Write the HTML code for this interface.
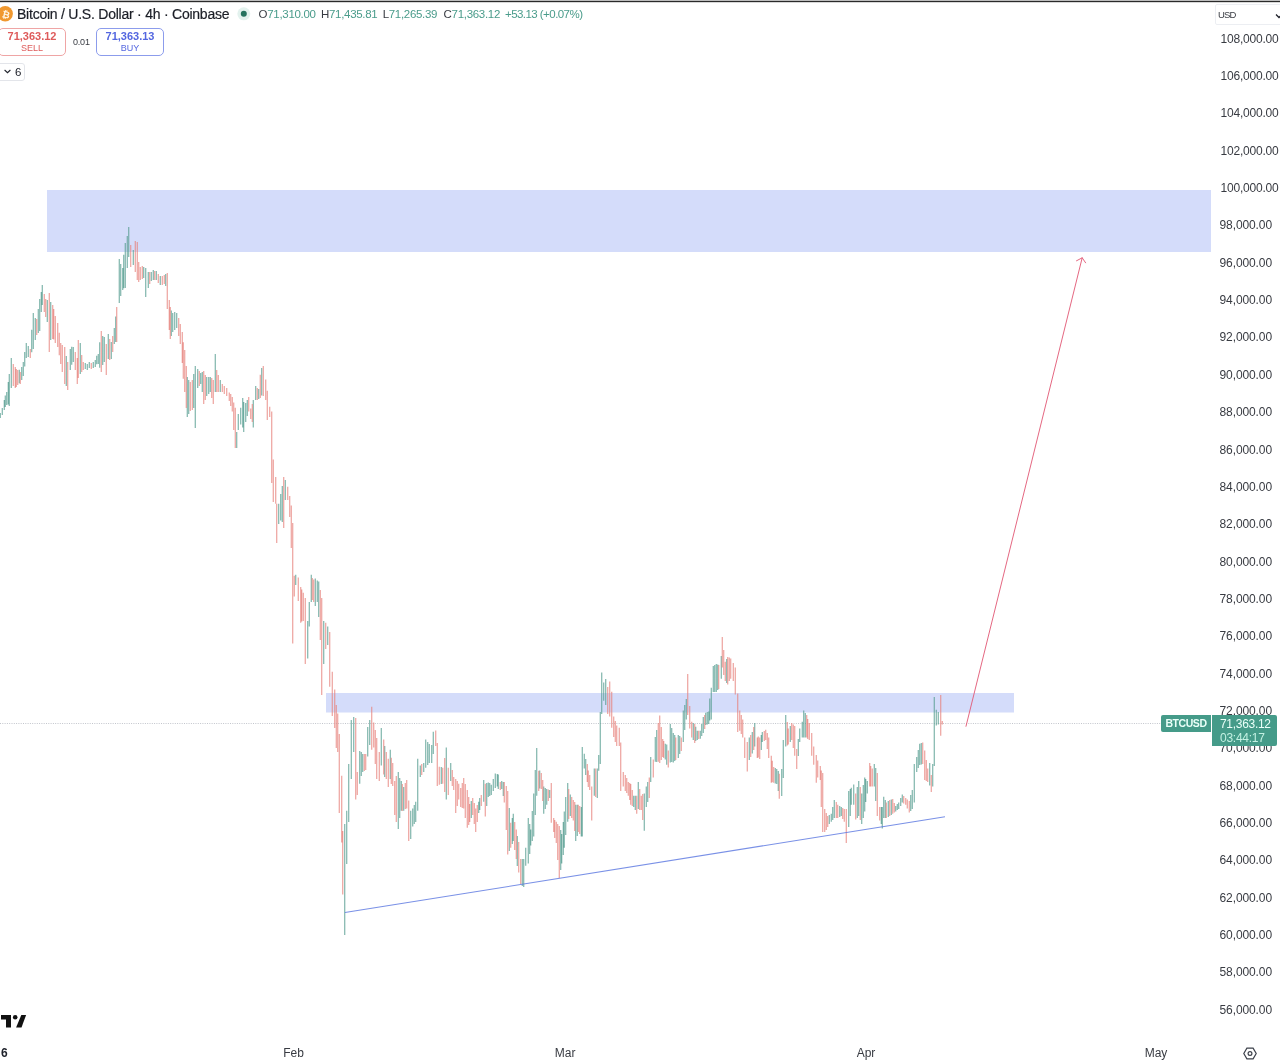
<!DOCTYPE html>
<html lang="en">
<head>
<meta charset="utf-8">
<title>BTCUSD 4h</title>
<style>
html,body{margin:0;padding:0;background:#fff;}
body{width:1280px;height:1062px;overflow:hidden;position:relative;font-family:"Liberation Sans",sans-serif;color:#2a2e39;}
#wrap{position:absolute;left:0;top:0;width:1280px;height:1062px;overflow:hidden;will-change:transform;}
.abs{position:absolute;white-space:nowrap;}
svg{position:absolute;left:0;top:0;}
.pl{position:absolute;left:1219.5px;width:54px;height:14px;line-height:14px;font-size:12px;letter-spacing:-0.2px;color:#383b42;white-space:nowrap;}
.tl{position:absolute;top:1046px;height:14px;line-height:14px;font-size:12px;color:#383b42;white-space:nowrap;transform:translateX(-50%);}
#topbar{position:absolute;left:0;top:0;width:1280px;height:3px;background:linear-gradient(#bdbdbd 0,#bdbdbd 1px,#2a2a2a 1px,#2a2a2a 2px,#d8d8d8 2px,#d8d8d8 3px);}
#title{left:17px;top:5px;height:18px;line-height:18px;font-size:14px;color:#1b1e26;letter-spacing:-0.235px;-webkit-text-stroke:0.2px #1b1e26;}
#ohlc{left:0;top:7px;height:14px;line-height:14px;font-size:11.5px;color:#4a9c8b;letter-spacing:-0.31px;}
#ohlc b{font-weight:normal;color:#383b42;}
#ohlc span{position:absolute;top:0;}
.btn{position:absolute;top:28px;height:28px;border:1px solid;border-radius:5px;box-sizing:border-box;text-align:center;background:#fff;}
.btn .p{display:block;font-size:11px;line-height:12px;margin-top:1px;font-weight:bold;letter-spacing:0;}
.btn .l{display:block;font-size:9px;line-height:11px;margin-top:0.5px;}
#sell{left:-2px;width:68px;border-color:#efa5a5;color:#de5b5b;}
#buy{left:96px;width:68px;border-color:#8c9cec;color:#5467e0;}
#spread{left:73px;top:35.7px;font-size:9px;line-height:12px;letter-spacing:-0.2px;color:#383b42;}
#ind{position:absolute;left:-4px;top:63px;width:29px;height:18px;border:1px solid #e3e5ea;border-radius:3px;box-sizing:border-box;}
#ind span{position:absolute;left:18px;top:1px;font-size:11.5px;line-height:14px;color:#20232c;}
#usd{position:absolute;left:1215px;top:4px;width:70px;height:21px;border:1px solid #eceef2;box-sizing:border-box;border-radius:2px;}
#usd span{position:absolute;left:2px;top:4px;font-size:9.5px;line-height:12px;letter-spacing:-0.85px;color:#383b42;}
#sym{position:absolute;left:1161px;top:715px;width:50px;height:17px;background:#459b89;border-radius:2px 0 0 2px;color:#eafff8;font-size:10.5px;line-height:17px;text-align:center;font-weight:bold;letter-spacing:-0.45px;}
#last{position:absolute;left:1212px;top:715px;width:65px;height:31px;background:#459b89;border-radius:0 2px 2px 0;color:#eafff8;}
#last .a{position:absolute;left:8px;top:2px;font-size:12px;line-height:14px;letter-spacing:-0.3px;}
#last .b{position:absolute;left:8px;top:16px;font-size:12px;line-height:14px;letter-spacing:-0.25px;color:#c3f0e2;}
#six{left:1px;top:1046px;font-size:12px;line-height:14px;font-weight:bold;color:#20232c;}
</style>
</head>
<body>
<div id="wrap">
<svg width="1280" height="1062" viewBox="0 0 1280 1062">
  <!-- zones -->
  <rect x="47" y="190" width="1164" height="62" fill="#d4dcfa"/>
  <rect x="326" y="693" width="688" height="19.5" fill="#d4dcfa"/>
  <!-- last price dotted line -->
  <line x1="0" y1="723.5" x2="1161" y2="723.5" stroke="#c2c5cc" stroke-width="1" stroke-dasharray="1 1.3"/>
  <!-- candles -->
  <g transform="translate(0.25,0)" fill="none" stroke-width="1.05" stroke-opacity="0.85">
    <path stroke="#559c8f" d="M0 413.0v5.0M2 408.0v7.0M4 400.0v10.0M5 395.5v11.5M6.5 392.0v13.0M8 382.0v22.5M9 374.0v32.0M11 358.0v30.0M19 369.7v13.5M21.5 367.1v13.0M23 362.0v14.0M24.5 352.1v14.5M26 343.0v15.0M28 346.0v11.0M31.5 329.7v22.5M33 313.0v36.0M35 318.0v22.0M38 309.0v24.0M39.5 299.0v32.0M41 292.0v20.0M42 285.0v20.0M47 300.0v22.0M50.5 302.0v38.0M66 356.0v30.0M70 349.0v21.0M71.5 346.7v18.0M73 347.0v15.0M80 343.0v31.0M85 363.0v6.0M87 364.0v6.0M89 362.0v6.0M93 362.0v6.0M95 360.0v7.0M96.5 355.8v8.5M98 354.0v10.0M99.5 342.3v25.5M102.5 336.0v29.0M104 337.0v25.0M108 334.0v25.0M111 342.0v17.0M114 328.0v16.0M115.5 316.4v25.5M119 259.0v44.0M120.5 264.0v32.0M122.5 268.0v22.0M123.5 254.7v33.5M125 243.0v45.0M127 236.0v32.0M128.5 227.0v30.0M133 250.0v15.0M143.5 267.0v11.0M145.5 268.0v29.0M148 272.0v16.0M151 272.0v9.0M153 270.0v10.0M156 271.0v9.0M160 276.0v9.0M165.5 274.0v12.0M171 310.4v25.5M172.5 313.0v19.0M174.5 312.0v18.0M176.5 313.0v15.0M187 377.0v40.0M188.5 380.0v34.0M193.5 374.0v34.0M195 366.0v62.0M197.5 369.0v19.0M200.5 373.0v11.0M202 372.0v20.0M206.5 377.0v19.0M208.5 377.0v17.0M210 377.0v15.0M215 354.0v38.0M220 380.0v12.0M236.5 432.0v16.0M238 414.0v16.0M240.5 407.7v16.9M242.5 398.0v29.5M243.5 402.0v30.0M245.5 403.0v19.0M247 400.0v16.0M253 400.0v27.5M255.5 386.0v14.0M258.5 389.0v10.0M261.5 368.0v27.5M278.5 503.7v20.3M280.5 494.0v26.6M282 486.0v36.0M285 480.0v20.0M295.5 574.8v10.2M307.5 621.0v37.6M309 602.0v24.6M311 574.8v27.2M315 578.6v27.4M317 580.5v21.5M318.5 581.4v35.6M323.5 621.0v43.0M327.5 626.6v18.4M344.5 824.0v111.0M346.5 810.8v53.2M348.5 764.0v58.0M351 720.0v59.0M353.5 717.0v35.0M359.5 751.0v32.7M361 752.0v24.0M362.5 754.0v18.0M367.5 727.0v29.5M369.5 720.0v25.0M381 728.0v37.6M384.5 746.0v31.0M390 749.7v29.3M398 772.0v57.0M399.5 778.0v40.0M401 781.0v29.8M403.5 787.0v23.8M410.5 810.8v28.2M412.5 808.5v18.1M414 805.0v19.0M415.5 801.8v20.2M417.5 758.8v52.0M420 765.6v11.4M423.5 763.0v9.0M425.5 739.6v28.2M427.5 742.0v23.0M429 744.0v19.0M431.5 745.0v18.0M433 731.7v22.3M441 767.0v17.0M446 747.5v52.0M450.5 763.0v18.0M471 801.0v17.0M478.5 801.8v11.2M479.5 798.0v12.0M483.5 780.0v21.8M486.5 783.0v23.0M488 782.5v14.5M489.5 783.0v13.0M491 784.8v10.2M493 779.0v12.0M495 773.5v14.5M497 774.0v12.6M498 774.6v14.4M501.5 781.0v8.0M503 782.0v14.0M509 808.0v43.0M512 818.0v26.0M513 813.8v27.2M517 836.0v30.0M522 859.0v27.0M523.5 859.0v28.0M525.5 847.7v18.1M528 818.0v45.5M529.5 824.0v30.0M530.5 829.6v15.8M532 811.0v30.0M533.5 793.4v43.0M535 770.0v45.0M536.5 748.0v47.7M539.5 770.5v18.1M543.5 786.6v27.2M545 788.0v21.0M546.5 789.0v15.7M549.5 790.0v8.0M560.5 830.0v40.0M561.5 834.0v29.5M563 822.0v33.0M564 811.5v36.2M565.5 797.0v38.0M567.5 783.0v38.7M570 794.5v21.5M575.5 804.7v36.3M577 804.7v31.3M581 807.0v29.4M582 747.0v89.4M584 753.8v14.7M585.5 759.0v16.0M594 768.5v27.2M597 768.5v29.5M598.5 755.0v15.8M600 712.0v52.0M601.5 672.4v41.6M603.5 682.6v18.1M605.5 679.0v26.0M633.5 795.7v11.3M635 795.7v14.3M638 782.0v27.0M644 793.4v37.3M646 786.6v20.4M647.5 782.0v20.0M650.5 757.0v25.0M655 737.0v24.8M656.5 730.0v32.0M665 743.7v15.8M666.5 744.4v20.3M670 724.0v38.5M671.5 728.0v34.0M673 733.0v29.5M674.5 735.0v26.0M678 735.0v23.0M679.5 736.0v18.0M683 710.5v31.5M684.5 705.0v25.0M686 699.0v20.5M693 723.0v17.0M695.5 726.8v14.1M697 730.8v9.2M700 730.8v7.9M701.5 724.0v12.0M703 717.0v16.0M705.5 712.7v12.3M707 712.0v12.5M708.5 711.6v12.4M709.5 698.6v22.0M711 687.8v31.7M713 666.0v26.0M714.5 665.0v27.0M716 664.0v28.0M717.5 664.5v25.5M721 656.0v22.8M726.5 659.0v24.0M749 737.6v22.4M752 732.0v21.4M754.5 723.0v23.6M761 735.0v15.0M762 732.0v10.0M775 768.0v15.5M776.5 769.0v15.0M778 771.0v20.0M781.5 769.0v27.0M783 740.0v38.0M785.5 715.0v31.6M790 726.0v16.0M798 739.0v17.0M799.5 728.5v13.5M802 721.8v15.8M803.5 710.5v27.1M805 713.0v24.6M829 815.0v9.0M831 813.8v7.9M832.5 807.0v13.0M834 800.0v18.0M839.5 806.0v11.0M841 807.0v9.0M848.5 791.0v36.0M850 789.0v27.0M851 787.8v16.9M853.5 784.4v20.3M857 787.0v31.0M858.5 781.0v35.0M861.5 793.4v30.6M863 785.0v33.0M864.5 777.6v33.9M865.5 779.0v23.0M867 781.0v12.4M874 764.0v22.6M875.5 768.0v33.0M881 807.0v17.0M882 807.0v21.5M883.5 796.8v21.2M885 800.0v18.0M888 801.0v16.0M891 799.5v15.5M895.5 806.0v5.5M897 804.0v6.0M898.5 802.5v6.5M900.5 798.0v8.0M902 794.5v8.0M910.5 795.0v16.0M912 790.0v19.0M914 764.0v38.5M916.5 757.0v15.0M918 750.0v18.0M919.5 743.7v21.3M921 743.0v21.5M929.5 763.0v22.5M932.5 764.0v22.6M934 697.0v69.0M936 709.7v15.9M938 712.0v12.4"/>
    <path stroke="#e6827c" d="M13 364.0v22.0M15 367.0v21.0M16 369.0v18.0M17.5 370.0v15.0M20 372.0v12.0M30 349.0v9.0M36.5 319.0v16.0M44 294.0v18.0M45.5 299.0v18.0M49 293.0v59.0M52.5 305.0v34.0M53.5 309.1v30.5M55 316.0v27.0M57.5 323.0v24.0M59 332.8v22.5M60.5 343.0v21.0M62 345.0v27.0M64.5 347.0v37.0M67.5 362.0v28.0M75 352.0v18.0M77 358.0v26.0M78 340.0v38.0M81.5 355.0v17.0M83 362.0v8.0M91 363.0v6.0M101 331.0v41.0M106 344.0v31.0M109.5 339.0v21.0M112.5 336.0v16.0M116.5 307.0v35.0M130.5 245.0v22.0M135 241.0v31.0M137 242.0v38.0M138.5 262.0v20.0M140 267.0v13.0M142 266.0v13.0M149.5 272.0v12.0M154.5 271.0v9.0M158 274.0v9.0M162 276.0v9.0M164 275.0v9.0M167 273.0v36.0M169 300.0v30.0M170 307.0v32.0M178.5 318.0v18.0M180 324.0v20.0M182 332.0v31.0M183 342.3v36.5M184.5 350.0v42.0M186 366.0v42.0M190 382.0v29.0M192 380.0v30.0M199 371.0v15.0M203.5 371.0v33.0M205 375.0v25.0M211.5 378.0v20.0M213 380.0v24.0M216.5 370.0v22.0M218 375.0v17.0M222 384.0v8.0M224 386.0v8.0M226.5 388.0v8.0M229 392.6v8.4M230.5 394.0v12.0M232 397.0v14.5M233.5 402.6v27.4M235 407.7v40.3M248.5 397.0v14.5M250.5 408.6v10.4M252 404.0v18.0M257 388.0v12.0M260 374.8v23.2M263 366.0v30.0M265.5 379.5v20.5M267 390.8v29.2M269.5 406.8v10.2M271.5 411.5v71.5M273 459.5v42.5M275.5 477.0v26.7M276.5 503.7v39.3M283.5 477.0v51.0M287.5 486.8v13.2M289.5 496.0v21.0M291 505.6v42.4M292.5 523.0v120.5M294 575.8v20.7M298 577.6v23.4M300.5 587.0v35.8M301.5 589.5v32.0M303 592.7v28.3M305 598.0v66.0M312 578.0v22.0M313.5 579.5v22.5M320 590.0v50.0M321.5 598.0v97.0M325.5 622.8v26.2M329.5 632.0v54.8M332 671.8v44.2M334.5 689.6v38.4M336 705.0v43.0M337.5 713.6v38.4M339 734.0v79.0M341.5 775.8v66.7M342.5 831.0v63.5M355.5 718.0v81.5M357 772.0v23.0M364 754.0v17.0M365.5 754.0v16.0M371.5 706.8v42.9M373.5 722.6v24.9M375 730.0v34.0M376.5 738.0v41.0M379 752.0v29.0M383.5 739.6v35.0M386 752.0v27.0M388 758.8v28.2M391 757.8v26.1M392.5 763.0v23.0M394.5 781.0v34.0M396 776.0v46.0M402 784.0v27.0M405 783.0v26.0M406.5 780.0v28.5M408.5 800.6v40.4M421.5 764.0v11.0M435.5 730.5v15.5M437 743.0v43.0M439 766.7v18.1M442.5 767.8v15.9M444.5 758.0v34.0M448 767.8v27.2M452 770.0v16.0M453.5 777.0v13.0M455.5 779.0v34.0M457 781.0v25.0M458.5 783.7v15.8M460.5 788.0v19.0M462 783.0v25.0M463.5 778.0v30.5M465 784.0v34.0M467 790.0v37.8M468.5 797.0v28.0M469.5 804.0v18.0M472.5 798.0v17.0M474 803.0v21.0M475.5 808.5v23.5M477 805.0v17.0M481 795.0v11.0M485 783.7v32.8M500 782.0v8.0M504 782.0v20.5M506 786.0v44.0M507.5 791.0v63.5M510.5 822.8v24.9M514.5 822.0v28.0M516 829.6v29.4M518.5 842.0v30.6M520.5 859.0v25.0M538.5 770.8v20.2M541 773.0v16.0M542.5 780.0v21.0M548 789.5v11.5M551 783.0v39.8M553.5 818.0v14.0M554.5 820.0v18.0M556 821.7v21.3M557.5 824.0v36.0M559 826.0v52.0M568.5 789.0v30.0M571.5 797.0v21.0M573 800.0v20.5M574.5 802.0v29.0M578 804.7v27.3M579.5 806.0v28.0M587 764.0v18.0M588 770.6v16.5M589.5 775.0v15.0M591.5 786.6v33.9M595.5 768.5v28.5M607.5 687.0v27.0M609.5 681.5v35.0M611.5 691.7v36.1M613.5 716.5v20.5M615 721.0v21.0M616.5 725.6v20.4M619 727.8v18.2M620.5 742.5v48.5M623 772.0v14.6M625 775.0v16.0M626.5 778.0v15.0M628 782.0v13.7M629.5 783.0v17.0M630.5 784.0v20.7M632 790.0v16.0M636.5 795.7v18.1M639.5 789.0v21.0M641 795.7v14.3M642.5 794.0v26.0M649 777.6v20.4M653 759.5v18.1M658 723.0v38.8M659.5 715.4v47.6M661 727.0v33.0M662.5 739.0v18.0M663.5 741.0v17.0M668 750.5v16.9M675.5 737.6v22.4M681 737.6v13.4M687.5 674.0v41.0M689.5 706.0v22.5M691.5 721.8v15.8M694.5 724.0v19.0M698.5 730.8v8.2M704.5 715.0v14.0M718.5 665.0v24.0M722 637.0v30.5M723.5 650.0v25.0M725 661.8v19.2M727.5 657.0v27.5M729 657.5v23.5M730.5 658.4v20.4M733 663.0v18.0M735 667.5v27.1M737.5 693.5v38.5M739.5 710.5v20.3M741 715.0v19.0M742.5 719.5v18.1M744.5 737.6v20.4M747 742.0v29.5M750.5 735.0v22.0M753.5 727.0v23.0M757 737.6v20.4M758 736.5v20.9M759.5 737.6v21.4M764 731.0v10.0M765.5 729.7v10.3M767 733.0v16.0M768.5 737.6v20.4M771 755.7v27.1M772 760.8v21.4M773.5 767.0v15.8M779 773.8v24.9M787 722.0v23.5M788 728.5v15.9M791.5 723.0v17.0M793 724.5v23.5M794.5 726.0v29.7M796.5 749.0v20.0M806.5 715.0v22.6M807.5 719.0v20.0M809 723.0v17.0M811.5 733.0v22.7M813.5 746.6v18.1M816 755.0v27.8M817.5 760.6v17.0M820 766.0v14.0M821 770.4v36.5M822.5 773.0v59.0M824.5 809.0v23.0M826 813.0v17.0M827.5 816.0v11.0M836 802.0v16.0M837.5 804.7v13.3M842.5 808.0v11.0M844 809.0v12.7M846 809.0v34.0M855.5 793.4v26.0M860 787.0v33.0M869.5 763.0v23.6M870.5 766.0v20.6M872 768.5v18.1M877 773.0v43.0M879.5 807.0v13.6M886 802.5v15.5M889.5 800.0v16.0M892.5 799.0v14.8M894 803.0v9.6M903.5 796.0v7.6M905.5 798.0v6.7M907 799.5v9.1M909 801.0v11.6M922.5 742.5v21.5M924.5 750.5v29.5M926 760.0v21.0M927.5 768.5v13.5M931 775.0v17.0M940.5 695.0v40.8M942 721.0v3.4"/>
  </g>
  <!-- trend line -->
  <line x1="344.9" y1="912.6" x2="945" y2="816.7" stroke="#5b78e0" stroke-width="1.05" stroke-opacity="0.82"/>
  <!-- projection arrow -->
  <g stroke="#e25a76" stroke-width="1" stroke-opacity="0.92" fill="none" stroke-linecap="round">
    <line x1="966" y1="726.3" x2="1082.2" y2="257.8"/>
    <polyline points="1076.5,260.8 1082.2,257.8 1085.6,262.8"/>
  </g>
  <!-- bitcoin icon -->
  <circle cx="5.2" cy="13.8" r="7.7" fill="#f0982f"/>
  <!-- live dot -->
  <circle cx="243.8" cy="13.8" r="6.5" fill="#e3f2ee"/>
  <circle cx="243.8" cy="13.8" r="3" fill="#26735f"/>
  <!-- TV logo -->
  <g fill="#111">
    <path d="M1 1015h10v12.6H6v-8.1H1z"/>
    <circle cx="15.2" cy="1017.3" r="2.3"/>
    <path d="M21.3 1015h4.8l-4.6 12.6h-5.4z"/>
  </g>
  <!-- chevron -->
  <path d="M4.6 70l2.9 2.7 2.9-2.7" fill="none" stroke="#20232c" stroke-width="1.1"/>
  <!-- usd caret -->
  <path d="M1276 14.5l3 3 3-3" fill="none" stroke="#20232c" stroke-width="1.3"/>
  <!-- gear -->
  <g fill="none" stroke="#3d414b" stroke-width="1.2">
    <path d="M1243.8 1053.5l3.1-5.3h6.2l3.1 5.3-3.1 5.3h-6.2z"/>
    <circle cx="1250" cy="1053.5" r="1.9"/>
  </g>
</svg>
<div id="topbar"></div>
<div class="abs" style="left:1.5px;top:8.5px;width:8px;font-family:'DejaVu Sans',sans-serif;font-size:9.5px;line-height:11px;color:#fff6e6;font-weight:bold;text-align:center;transform:rotate(13deg);">₿</div>
<div id="title" class="abs">Bitcoin / U.S. Dollar · 4h · Coinbase</div>
<div id="ohlc" class="abs"><span style="left:258.6px"><b>O</b>71,310.00</span><span style="left:321px"><b>H</b>71,435.81</span><span style="left:382.7px"><b>L</b>71,265.39</span><span style="left:443.6px"><b>C</b>71,363.12</span><span style="left:505px;letter-spacing:-0.55px">+53.13 (+0.07%)</span></div>
<div id="sell" class="btn"><span class="p">71,363.12</span><span class="l">SELL</span></div>
<div id="spread" class="abs">0.01</div>
<div id="buy" class="btn"><span class="p">71,363.13</span><span class="l">BUY</span></div>
<div id="ind"><span>6</span></div>
<div id="usd"><span>USD</span></div>
<div class="pl" style="top:31.6px;left:1220.5px">108,000.00</div>
<div class="pl" style="top:69.0px;left:1220.5px">106,000.00</div>
<div class="pl" style="top:106.3px;left:1220.5px">104,000.00</div>
<div class="pl" style="top:143.7px;left:1220.5px">102,000.00</div>
<div class="pl" style="top:181.0px;left:1220.5px">100,000.00</div>
<div class="pl" style="top:218.3px;letter-spacing:-0.1px">98,000.00</div>
<div class="pl" style="top:255.7px;letter-spacing:-0.1px">96,000.00</div>
<div class="pl" style="top:293.1px;letter-spacing:-0.1px">94,000.00</div>
<div class="pl" style="top:330.4px;letter-spacing:-0.1px">92,000.00</div>
<div class="pl" style="top:367.8px;letter-spacing:-0.1px">90,000.00</div>
<div class="pl" style="top:405.1px;letter-spacing:-0.1px">88,000.00</div>
<div class="pl" style="top:442.5px;letter-spacing:-0.1px">86,000.00</div>
<div class="pl" style="top:479.8px;letter-spacing:-0.1px">84,000.00</div>
<div class="pl" style="top:517.1px;letter-spacing:-0.1px">82,000.00</div>
<div class="pl" style="top:554.5px;letter-spacing:-0.1px">80,000.00</div>
<div class="pl" style="top:591.9px;letter-spacing:-0.1px">78,000.00</div>
<div class="pl" style="top:629.2px;letter-spacing:-0.1px">76,000.00</div>
<div class="pl" style="top:666.6px;letter-spacing:-0.1px">74,000.00</div>
<div class="pl" style="top:703.9px;letter-spacing:-0.1px">72,000.00</div>
<div class="pl" style="top:741.2px;letter-spacing:-0.1px">70,000.00</div>
<div class="pl" style="top:778.6px;letter-spacing:-0.1px">68,000.00</div>
<div class="pl" style="top:816.0px;letter-spacing:-0.1px">66,000.00</div>
<div class="pl" style="top:853.3px;letter-spacing:-0.1px">64,000.00</div>
<div class="pl" style="top:890.7px;letter-spacing:-0.1px">62,000.00</div>
<div class="pl" style="top:928.0px;letter-spacing:-0.1px">60,000.00</div>
<div class="pl" style="top:965.4px;letter-spacing:-0.1px">58,000.00</div>
<div class="pl" style="top:1002.7px;letter-spacing:-0.1px">56,000.00</div>
<div id="sym">BTCUSD</div>
<div id="last"><span class="a">71,363.12</span><span class="b">03:44:17</span></div>
<div id="six" class="abs">6</div>
<div class="tl" style="left:293.5px">Feb</div>
<div class="tl" style="left:565.2px">Mar</div>
<div class="tl" style="left:866px">Apr</div>
<div class="tl" style="left:1156px">May</div>
</div>
</body>
</html>
